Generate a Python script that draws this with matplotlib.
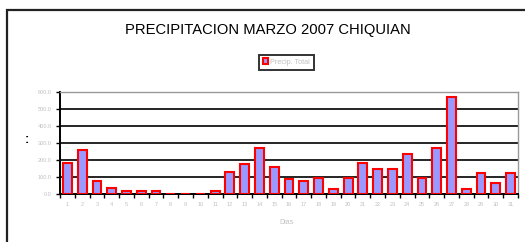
import matplotlib
matplotlib.use("Agg")
import matplotlib.pyplot as plt
from matplotlib.patches import Rectangle
import numpy as np

days = list(range(1, 32))
precip = [184, 255, 78, 38, 18, 18, 18, 0, 0, 0, 18, 127, 176, 269, 160,
          88, 78, 92, 31, 92, 184, 149, 149, 233, 92, 269, 566, 31, 125, 63, 125]
yticks = [0, 100, 200, 300, 400, 500, 600]
ytick_labels = ["0.0", "100.0", "200.0", "300.0", "400.0", "500.0", "600.0"]
title = "PRECIPITACION MARZO 2007 CHIQUIAN"
series_name = "Precip. Total"
xlabel = "Dias"

W, H = 525, 242
fig = plt.figure(figsize=(W / 100, H / 100), dpi=100)
plt.rcParams['font.family'] = ['Liberation Sans', 'DejaVu Sans']

# outer chart frame
fig.patches.append(Rectangle((7 / W, -0.1), 1.2, 1.1 - 10.5 / H,
                             transform=fig.transFigure, fill=False,
                             edgecolor='#222222', linewidth=1.6, zorder=0))

x0, x1 = 60, 518
ytop, ybot = 91.5, 194
ax = fig.add_axes([x0 / W, 1 - ybot / H, (x1 - x0) / W, (ybot - ytop) / H])
ax.set_facecolor('white')

x = np.arange(1, len(days) + 1)
bars = ax.bar(x, precip, width=0.6, color='#9999FF', edgecolor='#FF0000',
              linewidth=1.5, label=series_name, zorder=3)

lab_col = '#c0c0c0'
ax.set_xlim(0.5, len(days) + 0.5)
ax.set_ylim(0, 600)
ax.set_yticks(yticks)
ax.set_yticklabels(ytick_labels, fontsize=4, color=lab_col)
ax.yaxis.grid(True, color='black', linewidth=1.2, zorder=1)
ax.set_axisbelow(True)

ax.set_xticks(np.arange(0.5, len(days) + 1, 1))
ax.set_xticklabels([])
ax.set_xticks(x, minor=True)
ax.set_xticklabels([str(d) for d in days], minor=True, fontsize=4, color=lab_col)
ax.tick_params(axis='x', which='major', length=3, width=1, color='black', direction='out')
ax.tick_params(axis='x', which='minor', length=0, pad=6)
ax.tick_params(axis='y', length=3, width=1, color='black', direction='out', pad=3)

for s in ['left', 'bottom']:
    ax.spines[s].set_color('black')
    ax.spines[s].set_linewidth(1.4)
for s in ['top', 'right']:
    ax.spines[s].set_color('#999999')
    ax.spines[s].set_linewidth(1.0)

fig.text(268 / W, 1 - 30 / H, title, ha='center', va='center', fontsize=10.6)
fig.text(286 / W, 1 - 222 / H, xlabel, ha='center', va='center', fontsize=5, color=lab_col)
fig.text(27 / W, 1 - 140 / H, ":", ha='center', va='center', fontsize=9,
         fontweight='bold', color='black')

leg = fig.legend(handles=[bars], labels=[series_name], loc='center',
                 bbox_to_anchor=(286.5 / W, 1 - 62 / H), fontsize=5.2,
                 frameon=True, fancybox=False, handlelength=0.7, handleheight=0.7,
                 handletextpad=0.3, borderpad=0.55, borderaxespad=0)
leg.get_frame().set_edgecolor('black')
leg.get_frame().set_linewidth(1.4)
for t in leg.get_texts():
    t.set_color(lab_col)

fig.savefig('out.png', dpi=100)
